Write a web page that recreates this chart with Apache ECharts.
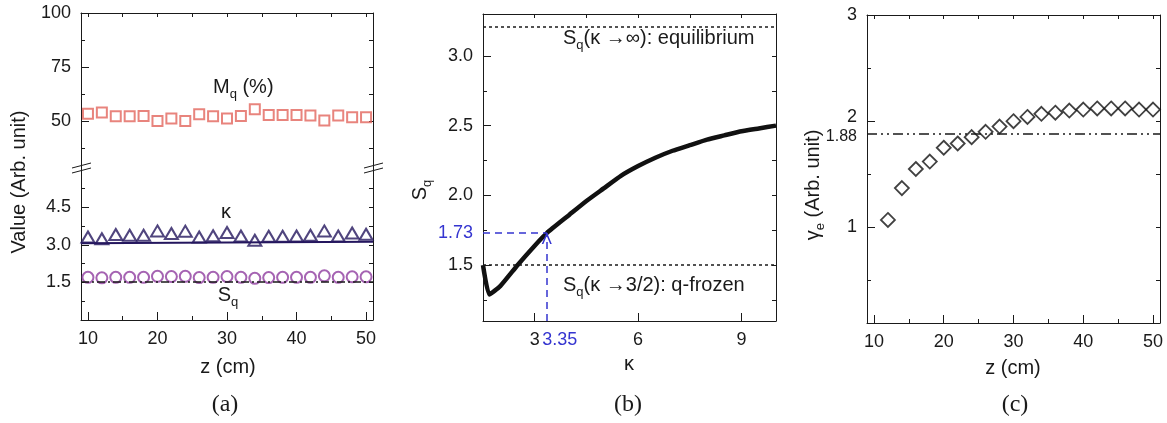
<!DOCTYPE html>
<html>
<head>
<meta charset="utf-8">
<script src="https://cdn.jsdelivr.net/npm/echarts@6.0.0/dist/echarts.min.js"></script>
<style>
html, body { margin: 0; padding: 0; background: #fff; }
#main { width: 1167px; height: 423px; }
</style>
</head>
<body>
<div id="main"></div>
<script>
// ---- data ----
// (a) quantities along z
var zA = [10, 12, 14, 16, 18, 20, 22, 24, 26, 28, 30, 32, 34, 36, 38, 40, 42, 44, 46, 48, 50];
var mqA = [53.4, 53.9, 52.2, 52.2, 52.3, 50.0, 51.1, 50.0, 53.1, 52.2, 51.1, 52.3, 55.4, 52.8, 52.8, 52.8, 52.5, 50.2, 52.5, 51.7, 51.7];
var kappaA = [3.31, 3.24, 3.41, 3.38, 3.38, 3.55, 3.45, 3.54, 3.31, 3.36, 3.49, 3.35, 3.18, 3.34, 3.34, 3.35, 3.38, 3.55, 3.35, 3.47, 3.42];
var sqA = [1.70, 1.68, 1.70, 1.70, 1.70, 1.74, 1.73, 1.74, 1.69, 1.70, 1.73, 1.70, 1.66, 1.69, 1.70, 1.70, 1.70, 1.76, 1.70, 1.72, 1.72];
var fitZ = [9, 51];
var kappaFit = [3.06, 3.12];
var sqFit = [1.52, 1.52];

// (b) S_q versus kappa
var kappaB = [1.5, 1.68, 2.0, 2.5, 3.0, 3.35, 4.0, 4.5, 5.0, 5.5, 6.0, 6.5, 7.0, 7.5, 8.0, 8.5, 9.0, 9.5, 10.0];
var sqB = [1.50, 1.29, 1.35, 1.50, 1.64, 1.73, 1.86, 1.96, 2.05, 2.14, 2.21, 2.27, 2.32, 2.36, 2.40, 2.43, 2.46, 2.48, 2.50];
var sqEquil = 3.21;
var sqFrozen = 1.5;
var markK = 3.35;
var markS = 1.73;

// (c) gamma_e along z
var zC = [12, 14, 16, 18, 20, 22, 24, 26, 28, 30, 32, 34, 36, 38, 40, 42, 44, 46, 48, 50];
var gammaC = [1.07, 1.37, 1.55, 1.62, 1.75, 1.79, 1.85, 1.90, 1.95, 2.00, 2.04, 2.07, 2.08, 2.10, 2.11, 2.12, 2.12, 2.12, 2.11, 2.11];
var gammaRef = 1.88;

// tick positions
var zTicks = [10, 20, 30, 40, 50];
var zMinor = [15, 25, 35, 45];
var zTop = [10, 15, 20, 25, 30, 35, 40, 45, 50];

var FONT = 'Liberation Sans';
var INK = '#1a1a1a';
var BLUE = '#3535d0';
var TICKFS = 18;

var RICH = {
  b: { color: BLUE, fontSize: TICKFS, fontFamily: FONT },
  bx: { color: BLUE, fontSize: TICKFS, fontFamily: FONT, padding: [0, 0, 0, 26] },
  up: { fontSize: TICKFS, fontFamily: FONT, color: INK, padding: [0, 0, 8, 0] },
  dn: { fontSize: 16, fontFamily: FONT, color: INK, padding: [6, 0, 0, 0] }
};

function pair(xs, ys) {
  return xs.map(function (x, i) { return [x, ys[i]]; });
}

function mkAxis(grid, pos, min, max, o) {
  o = o || {};
  return {
    type: 'value', gridIndex: grid, position: pos, min: min, max: max,
    splitLine: { show: false },
    axisLine: { show: !!o.line, onZero: false, lineStyle: { color: INK, width: 1 } },
    axisTick: o.ticks ? { show: true, inside: true, length: o.len || 8, customValues: o.ticks, lineStyle: { color: INK, width: 1 } } : { show: false },
    axisLabel: o.labels ? {
      show: true, customValues: o.labels, formatter: o.fmt, hideOverlap: false,
      margin: 10, fontSize: TICKFS, fontFamily: FONT, color: INK, rich: RICH
    } : { show: false }
  };
}

var xAxes = [], yAxes = [];
function addX(a) { xAxes.push(a); return xAxes.length - 1; }
function addY(a) { yAxes.push(a); return yAxes.length - 1; }

// grid 0: (a) upper part, grid 1: (a) lower part
var xa0 = addX(mkAxis(0, 'top', 9, 51, { line: true, ticks: zTop, len: 4 }));
var ya0 = addY(mkAxis(0, 'left', 28.7, 100, { line: true, ticks: [50, 75, 100], labels: [50, 75, 100] }));
addY(mkAxis(0, 'left', 28.7, 100, { ticks: [37.5, 62.5, 87.5], len: 4 }));
addY(mkAxis(0, 'right', 28.7, 100, { line: true, ticks: [37.5, 50, 62.5, 75, 87.5], len: 4 }));

var xa1 = addX(mkAxis(1, 'bottom', 9, 51, { line: true, ticks: zTicks, labels: zTicks }));
addX(mkAxis(1, 'bottom', 9, 51, { ticks: zMinor, len: 4 }));
var ya1 = addY(mkAxis(1, 'left', 0, 6.1, { line: true, ticks: [1.5, 3, 4.5], labels: [1.5, 3, 4.5], fmt: function (v) { return v.toFixed(1); } }));
addY(mkAxis(1, 'left', 0, 6.1, { ticks: [0.75, 2.25, 3.75, 5.25], len: 4 }));
addY(mkAxis(1, 'right', 0, 6.1, { line: true, ticks: [0.75, 1.5, 2.25, 3, 3.75, 4.5, 5.25], len: 4 }));

// grid 2: (b)
var xb = addX(mkAxis(2, 'bottom', 1.5, 10, { line: true, ticks: [3, 6, 9], labels: [3, markK, 6, 9],
  fmt: function (v) { return v === markK ? '{bx|' + v + '}' : String(v); } }));
addX(mkAxis(2, 'top', 1.5, 10, { line: true, ticks: [3, 4.5, 6, 7.5, 9], len: 4 }));
var yb = addY(mkAxis(2, 'left', 1.1, 3.3, { line: true, ticks: [1.5, 2, 2.5, 3], labels: [1.5, markS, 2, 2.5, 3],
  fmt: function (v) { return v === markS ? '{b|' + v + '}' : v.toFixed(1); } }));
addY(mkAxis(2, 'left', 1.1, 3.3, { ticks: [1.25, 1.75, 2.25, 2.75], len: 4 }));
addY(mkAxis(2, 'right', 1.1, 3.3, { line: true, ticks: [1.25, 1.5, 1.75, 2, 2.25, 2.5, 2.75, 3], len: 4 }));

// grid 3: (c)
var xc = addX(mkAxis(3, 'bottom', 9, 51, { line: true, ticks: zTicks, labels: zTicks }));
addX(mkAxis(3, 'bottom', 9, 51, { ticks: zMinor, len: 4 }));
addX(mkAxis(3, 'top', 9, 51, { line: true, ticks: zTop, len: 4 }));
var yc = addY(mkAxis(3, 'left', 0.1, 3, { line: true, ticks: [1, 2, 3], labels: [1, gammaRef, 2, 3],
  fmt: function (v) { return v === 2 ? '{up|2}' : (v === gammaRef ? '{dn|1.88}' : String(v)); } }));
addY(mkAxis(3, 'left', 0.1, 3, { ticks: [0.5, 1.5, 2.5], len: 4 }));
addY(mkAxis(3, 'right', 0.1, 3, { line: true, ticks: [0.5, 1, 1.5, 2, 2.5], len: 4 }));

var SUBRICH = {
  m: { fontSize: 20, fontFamily: FONT, fill: INK, lineHeight: 28, verticalAlign: 'middle' },
  s: { fontSize: 13, fontFamily: FONT, fill: INK, lineHeight: 14, verticalAlign: 'bottom' }
};

function label(x, y, text, opt) {
  opt = opt || {};
  return {
    type: 'text', x: x, y: y, rotation: opt.rot || 0, silent: true, z: 100,
    style: {
      text: text, rich: SUBRICH,
      fill: INK, font: (opt.size || 20) + 'px "' + (opt.family || FONT) + '"',
      align: opt.align || 'center', verticalAlign: 'middle'
    }
  };
}

function breakMark(cx, cy) {
  return {
    type: 'group', x: cx, y: cy, z: 100, silent: true,
    children: [
      { type: 'rect', shape: { x: -3, y: -3, width: 6, height: 6 }, style: { fill: '#fff' } },
      { type: 'line', shape: { x1: -9, y1: 2, x2: 10, y2: -3 }, style: { stroke: INK, lineWidth: 1 } },
      { type: 'line', shape: { x1: -9, y1: 7, x2: 10, y2: 2 }, style: { stroke: INK, lineWidth: 1 } }
    ]
  };
}

var hollow = function (c, w) { return { color: 'transparent', borderColor: c, borderWidth: w }; };

var myChart = echarts.init(document.getElementById('main'));
var option = {
  animation: false,
  backgroundColor: '#fff',
  grid: [
    { left: 81, right: 794, top: 13, height: 154 },
    { left: 81, right: 794, top: 167, height: 153 },
    { left: 483, right: 391, top: 14, height: 307 },
    { left: 867, right: 7, top: 15, height: 308 }
  ],
  xAxis: xAxes,
  yAxis: yAxes,
  series: [
    {
      name: 'Mq', type: 'scatter', xAxisIndex: xa0, yAxisIndex: ya0,
      symbol: 'rect', symbolSize: 10, itemStyle: hollow('#e2655c', 2),
      data: pair(zA, mqA)
    },
    {
      name: 'kappa fit', type: 'line', xAxisIndex: xa1, yAxisIndex: ya1,
      showSymbol: false, lineStyle: { color: '#24165e', width: 2 },
      data: pair(fitZ, kappaFit)
    },
    {
      name: 'kappa', type: 'scatter', xAxisIndex: xa1, yAxisIndex: ya1,
      symbol: 'triangle', symbolSize: [13, 11], itemStyle: hollow('#24165e', 2),
      data: pair(zA, kappaA)
    },
    {
      name: 'Sq fit', type: 'line', xAxisIndex: xa1, yAxisIndex: ya1,
      showSymbol: false, lineStyle: { color: INK, width: 1.5, type: [8, 3, 2, 3] },
      data: pair(fitZ, sqFit)
    },
    {
      name: 'Sq', type: 'scatter', xAxisIndex: xa1, yAxisIndex: ya1,
      symbol: 'circle', symbolSize: 11, itemStyle: hollow('#8e3c9f', 2),
      data: pair(zA, sqA)
    },
    {
      name: 'Sq(kappa)', type: 'line', xAxisIndex: xb, yAxisIndex: yb,
      showSymbol: false, smooth: 0.15, lineStyle: { color: '#111', width: 4.5 },
      data: pair(kappaB, sqB),
      markLine: {
        silent: true, symbol: 'none', label: { show: false },
        lineStyle: { color: INK, width: 1.5, type: [3, 3] },
        data: [{ yAxis: sqEquil }, { yAxis: sqFrozen }]
      }
    },
    {
      name: 'marker', type: 'line', xAxisIndex: xb, yAxisIndex: yb,
      showSymbol: false, data: [],
      markLine: {
        silent: true, label: { show: false },
        lineStyle: { color: BLUE, width: 1.5, type: [7, 5] },
        itemStyle: { color: BLUE },
        data: [
          [{ coord: [1.5, markS], symbol: 'none' }, { coord: [markK, markS], symbol: 'none' }],
          [{ coord: [markK, 1.1], symbol: 'none' },
           { coord: [markK, markS], symbol: 'path://M0,10 L5,0 L10,10 L8.4,10 L5,3.2 L1.6,10 Z', symbolSize: [10, 12], symbolOffset: [0, 5] }]
        ]
      }
    },
    {
      name: 'gamma ref', type: 'line', xAxisIndex: xc, yAxisIndex: yc,
      showSymbol: false, lineStyle: { color: INK, width: 1.5, type: [10, 4, 2, 4, 2, 4] },
      data: pair(fitZ, [gammaRef, gammaRef])
    },
    {
      name: 'gamma', type: 'scatter', xAxisIndex: xc, yAxisIndex: yc,
      symbol: 'diamond', symbolSize: 14, itemStyle: hollow('#111', 1.8),
      data: pair(zC, gammaC)
    }
  ],
  graphic: [
    breakMark(81, 166),
    breakMark(373, 166),
    label(19, 182, 'Value (Arb. unit)', { rot: Math.PI / 2 }),
    label(213, 87, '{m|M}{s|q}{m| (%)}', { align: 'left' }),
    label(226, 212, 'κ'),
    label(228, 295, '{m|S}{s|q}'),
    label(228, 367, 'z (cm)'),
    label(420, 190, '{m|S}{s|q}', { rot: Math.PI / 2 }),
    label(563, 38, '{m|S}{s|q}{m|(κ →∞): equilibrium}', { align: 'left' }),
    label(563, 285, '{m|S}{s|q}{m|(κ →3/2): q-frozen}', { align: 'left' }),
    label(629, 364, 'κ'),
    label(813, 185, '{m|γ}{s|e}{m| (Arb. unit)}', { rot: Math.PI / 2 }),
    label(1013, 368, 'z (cm)'),
    label(225, 405, '(a)', { family: 'Liberation Serif', size: 24 }),
    label(628, 405, '(b)', { family: 'Liberation Serif', size: 24 }),
    label(1015, 405, '(c)', { family: 'Liberation Serif', size: 24 })
  ]
};

myChart.setOption(option);
</script>
</body>
</html>
